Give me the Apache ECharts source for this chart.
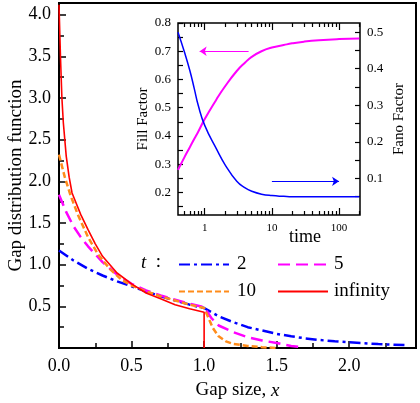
<!DOCTYPE html>
<html>
<head>
<meta charset="utf-8">
<script src="https://cdn.jsdelivr.net/npm/echarts@6.0.0/dist/echarts.min.js"></script>
<style>
html, body { margin: 0; padding: 0; background: #fff; }
#main { width: 420px; height: 403px; }
</style>
</head>
<body>
<div id="main"></div>
<script>
// main plot: gap distribution for t = 2, 5, 10, infinity  ([x, G(x)])
var gapT2 = [[0,1.17],[0.1,1.05],[0.2,0.95],[0.3,0.87],[0.4,0.8],[0.5,0.74],[0.6,0.68],[0.7,0.62],[0.8,0.57],[0.9,0.52],[1.0,0.48],
  [1.1,0.38],[1.2,0.31],[1.3,0.25],[1.4,0.21],[1.5,0.17],[1.6,0.14],[1.7,0.115],[1.8,0.095],[1.9,0.08],[2.0,0.068],
  [2.1,0.057],[2.2,0.047],[2.3,0.04],[2.4,0.034]];
var gapT5 = [[0,1.84],[0.05,1.63],[0.1,1.46],[0.15,1.33],[0.2,1.22],[0.3,1.03],[0.4,0.88],[0.5,0.77],[0.6,0.69],[0.7,0.63],
  [0.8,0.58],[0.9,0.53],[1.0,0.49],[1.05,0.36],[1.1,0.27],[1.2,0.19],[1.3,0.13],[1.4,0.09],[1.5,0.06],[1.6,0.025],[1.65,0.015]];
var gapT10 = [[0,2.32],[0.04,2.05],[0.08,1.83],[0.13,1.6],[0.2,1.33],[0.27,1.12],[0.35,0.95],[0.43,0.82],[0.5,0.75],[0.6,0.68],
  [0.7,0.62],[0.8,0.57],[0.9,0.52],[1.0,0.48],[1.03,0.36],[1.06,0.24],[1.1,0.14],[1.15,0.08],[1.2,0.05],[1.3,0.025],[1.4,0.01],[1.5,0]];
var gapInf = [[0,4.12],[0.01,3.5],[0.02,3.0],[0.03,2.7],[0.05,2.3],[0.07,2.05],[0.09,1.86],[0.15,1.6],[0.2,1.42],[0.25,1.25],
  [0.3,1.1],[0.4,0.9],[0.5,0.77],[0.6,0.66],[0.7,0.59],[0.8,0.52],[0.9,0.47],[1.0,0.43],[1.0,0]];

// inset: fill factor and fano factor vs time
var times = [0.4,0.5,0.6,0.7,0.8,1,1.5,2,3,4,5,7,10,15,20,30,50,100,200];
var fillFactor = [0.28,0.325,0.36,0.39,0.415,0.46,0.53,0.575,0.63,0.66,0.68,0.70,0.713,0.722,0.728,0.734,0.739,0.743,0.745];
var fanoFactor = [0.50,0.445,0.395,0.345,0.30,0.245,0.18,0.138,0.092,0.074,0.065,0.057,0.053,0.051,0.05,0.05,0.05,0.05,0.05];
var fillArrow = [[4.5,0.70],[0.84,0.70]];
var fanoArrow = [[10,0.092],[100,0.092]];

// inset tick values
var timeMajor = [1,10,100];
var timeMinor = [0.5,0.6,0.7,0.8,0.9,2,3,4,5,6,7,8,9,20,30,40,50,60,70,80,90,200];
var fillLabels = [0.2,0.3,0.4,0.5,0.6,0.7,0.8];
var fillTicks = [0.15,0.2,0.25,0.3,0.35,0.4,0.45,0.5,0.55,0.6,0.65,0.7,0.75,0.8];
var fanoLabels = [0.1,0.2,0.3,0.4,0.5];
var fanoTicks = [0.05,0.1,0.15,0.2,0.25,0.3,0.35,0.4,0.45,0.5];

var serif = 'Liberation Serif';

function pairs(xs, ys) {
  return xs.map(function (x, i) { return [x, ys[i]]; });
}

var insetX = function (pos, ticks, len, labels) {
  var ax = {
    type: 'log', gridIndex: 1, position: pos, min: 0.4, max: 205, logBase: 10,
    axisLine: { show: false },
    splitLine: { show: false },
    axisTick: { show: true, inside: true, length: len, customValues: ticks, lineStyle: { color: '#000', width: 1.2 } },
    axisLabel: labels ? { show: true, customValues: labels, margin: 8, fontSize: 11, fontFamily: serif, color: '#000' } : { show: false }
  };
  if (labels) {
    ax.name = 'time';
    ax.nameLocation = 'middle';
    ax.nameGap = 13;
    ax.nameMoveOverlap = false;
    ax.nameTextStyle = { fontSize: 18, fontFamily: serif, color: '#000', padding: [0, 0, 0, 72] };
  }
  return ax;
};

var option = {
  backgroundColor: '#fff',
  animation: false,
  textStyle: { fontFamily: serif },
  grid: [
    { left: 59, right: 4, top: 3, bottom: 55, show: true, borderColor: '#000', borderWidth: 2, outerBoundsMode: 'none', containLabel: false },
    { left: 178, right: 60, top: 23, bottom: 188, show: true, backgroundColor: '#fff', borderColor: '#000', borderWidth: 1.5,
      outerBoundsMode: 'none', containLabel: false }
  ],
  legend: [
    { orient: 'vertical', left: 178, top: 255, padding: 0, itemWidth: 50, itemHeight: 14, itemGap: 8, data: ['2', '10'],
      itemStyle: { opacity: 0 },
      textStyle: { fontSize: 19, fontFamily: serif, color: '#000', padding: [0, 0, 0, 3] } },
    { orient: 'vertical', left: 277, top: 255, padding: 0, itemWidth: 50, itemHeight: 14, itemGap: 8, data: ['5', 'infinity'],
      itemStyle: { opacity: 0 },
      textStyle: { fontSize: 19, fontFamily: serif, color: '#000', padding: [0, 0, 0, 1] } }
  ],
  graphic: [
    { type: 'text', left: 141, top: 253, style: { text: '{i|t}  :', fill: '#000', font: '19px "Liberation Serif"',
      rich: { i: { fontStyle: 'italic', fontSize: 19, fontFamily: serif } } } }
  ],
  xAxis: [
    { type: 'value', gridIndex: 0, min: 0, max: 2.46, interval: 0.5,
      name: 'Gap size, {i|x}', nameLocation: 'middle', nameGap: 33,
      nameTextStyle: { fontSize: 19, fontFamily: serif, color: '#000', rich: { i: { fontStyle: 'italic', fontSize: 19, fontFamily: serif } } },
      axisLine: { show: true, lineStyle: { color: '#000', width: 2 } },
      axisTick: { show: true, inside: true, length: 7, lineStyle: { color: '#000', width: 1.5 } },
      minorTick: { show: true, splitNumber: 2, length: 5, lineStyle: { color: '#000', width: 1.5 } },
      splitLine: { show: false },
      axisLabel: { show: true, margin: 9, fontSize: 18, color: '#000', fontFamily: serif, showMaxLabel: false,
        formatter: function (v) { return v.toFixed(1); } } },
    insetX('bottom', timeMajor, 7, timeMajor),
    insetX('bottom', timeMinor, 4, null),
    insetX('top', timeMajor, 7, null),
    insetX('top', timeMinor, 4, null)
  ],
  yAxis: [
    { type: 'value', gridIndex: 0, min: 0, max: 4.14, interval: 0.5,
      name: 'Gap distribution function', nameLocation: 'middle', nameGap: 33, nameMoveOverlap: false,
      nameTextStyle: { fontSize: 19, fontFamily: serif, color: '#000' },
      axisLine: { show: true, lineStyle: { color: '#000', width: 2 } },
      axisTick: { show: true, inside: true, length: 7, lineStyle: { color: '#000', width: 1.5 } },
      minorTick: { show: true, splitNumber: 2, length: 5, lineStyle: { color: '#000', width: 1.5 } },
      splitLine: { show: false },
      axisLabel: { show: true, margin: 8, fontSize: 18, color: '#000', fontFamily: serif, showMinLabel: false, showMaxLabel: false,
        formatter: function (v) { return v.toFixed(1); } } },
    { type: 'value', gridIndex: 1, position: 'left', min: 0.12, max: 0.8,
      name: 'Fill Factor', nameLocation: 'middle', nameGap: 27,
      nameTextStyle: { fontSize: 15, fontFamily: serif, color: '#000' },
      axisLine: { show: false },
      splitLine: { show: false },
      axisTick: { show: true, inside: true, length: 5, customValues: fillTicks, lineStyle: { color: '#000', width: 1.2 } },
      axisLabel: { show: true, customValues: fillLabels, margin: 7, fontSize: 13, color: '#000', fontFamily: serif,
        formatter: function (v) { return v.toFixed(1); } } },
    { type: 'value', gridIndex: 1, position: 'right', min: 0, max: 0.525,
      name: 'Fano Factor', nameLocation: 'middle', nameGap: 32, nameRotate: 90,
      nameTextStyle: { fontSize: 15, fontFamily: serif, color: '#000' },
      axisLine: { show: false },
      splitLine: { show: false },
      axisTick: { show: true, inside: true, length: 5, customValues: fanoTicks, lineStyle: { color: '#000', width: 1.2 } },
      axisLabel: { show: true, customValues: fanoLabels, margin: 7, fontSize: 13, color: '#000', fontFamily: serif,
        formatter: function (v) { return v.toFixed(1); } } }
  ],
  series: [
    { name: '2', type: 'line', xAxisIndex: 0, yAxisIndex: 0, data: gapT2, symbol: 'none', color: '#0000ff',
      lineStyle: { width: 2.5, type: [11, 4, 3, 4] } },
    { name: '5', type: 'line', xAxisIndex: 0, yAxisIndex: 0, data: gapT5, symbol: 'none', color: '#ff00ff',
      lineStyle: { width: 2.5, type: [12, 6] } },
    { name: '10', type: 'line', xAxisIndex: 0, yAxisIndex: 0, data: gapT10, symbol: 'none', color: '#ff8c1a',
      lineStyle: { width: 2.5, type: [6, 3] } },
    { name: 'infinity', type: 'line', xAxisIndex: 0, yAxisIndex: 0, data: gapInf, symbol: 'none', color: '#ff0000',
      lineStyle: { width: 1.6 } },
    { name: 'Fill Factor', type: 'line', xAxisIndex: 1, yAxisIndex: 1, data: pairs(times, fillFactor), symbol: 'none',
      smooth: 0.5, color: '#ff00ff', lineStyle: { width: 2 }, z: 6,
      markLine: { silent: true, symbol: ['none', 'arrow'], symbolSize: 7, label: { show: false },
        lineStyle: { color: '#ff00ff', type: 'solid', width: 1 },
        data: [[{ coord: fillArrow[0] }, { coord: fillArrow[1] }]] } },
    { name: 'Fano Factor', type: 'line', xAxisIndex: 1, yAxisIndex: 2, data: pairs(times, fanoFactor), symbol: 'none',
      smooth: 0.5, color: '#0000ff', lineStyle: { width: 1.5 }, z: 6,
      markLine: { silent: true, symbol: ['none', 'arrow'], symbolSize: 7, label: { show: false },
        lineStyle: { color: '#0000ff', type: 'solid', width: 1 },
        data: [[{ coord: fanoArrow[0] }, { coord: fanoArrow[1] }]] } }
  ]
};

var myChart = echarts.init(document.getElementById('main'));
myChart.setOption(option);
</script>
</body>
</html>
